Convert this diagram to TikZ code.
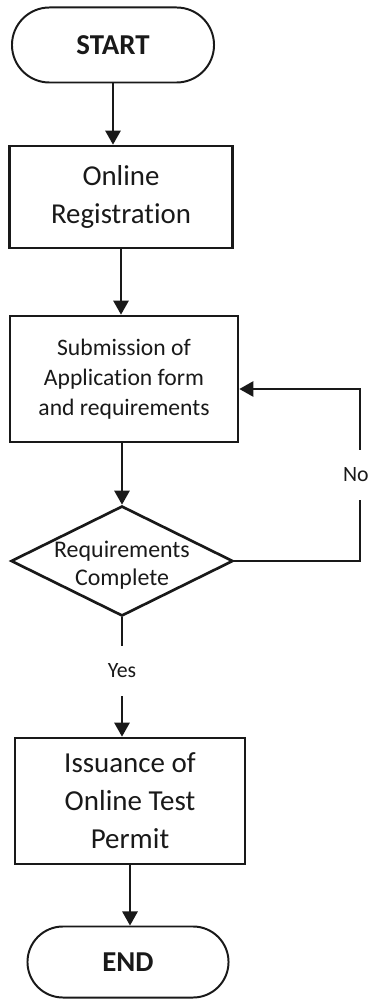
\documentclass[tikz,border=0pt]{standalone}
\usepackage{fontspec}
\setmainfont{Carlito}[Ligatures=NoCommon]
\usepackage{tikz}
\usetikzlibrary{shapes.geometric,shapes.misc}
\usetikzlibrary{arrows.meta}

\tikzset{
  terminal/.style={rounded rectangle, draw=black!90, line width=1.4pt, inner sep=0pt,
    text=black!90, font=\fontsize{20.5}{25}\selectfont\bfseries},
  process/.style={rectangle, draw=black!90, line width=1.9pt, inner sep=0pt,
    align=center, text=black!90},
  decision/.style={diamond, draw=black!90, line width=1.9pt, inner sep=0pt},
  flow/.style={line width=1pt, draw=black!90, -{Triangle[width=11pt,length=10pt]}},
  answer/.style={fill=white, text=black!90, inner xsep=2pt, inner ysep=12.5pt,
    font=\fontsize{15.5}{18}\selectfont}
}

\begin{document}
\begin{tikzpicture}[x=0.025cm,y=-0.025cm]
\useasboundingbox (0,0) rectangle (370,1003);
%%%%%boxes of the flow
\node[terminal, minimum width=5.05cm, minimum height=1.875cm] (start) at (113,45) {START};
\node[process, minimum width=5.575cm, minimum height=2.55cm,
  font=\fontsize{20.5}{26.5}\selectfont] (reg) at (121,197) {Online\\Registration};
\node[process, minimum width=5.7cm, minimum height=3.15cm,
  font=\fontsize{16.8}{21.5}\selectfont] (sub) at (124,379) {Submission of\\Application form\\and requirements};
\node[decision, minimum width=5.55cm, minimum height=2.75cm,
  label={[align=center, text=black!90, font=\fontsize{17}{20}\selectfont, yshift=-0.1cm]center:Requirements\\Complete}] (check) at (122,561) {};
\node[process, minimum width=5.75cm, minimum height=3.15cm,
  font=\fontsize{20.6}{27}\selectfont] (permit) at (130,801) {Issuance of\\Online Test\\Permit};
\node[terminal, minimum width=5.025cm, minimum height=1.775cm] (end) at (128,962) {END};
\coordinate (loop) at (360,389);
%%%%%arrows
\draw[flow] (start.south) -- (start.south |- reg.north);
\draw[flow] (reg.south) -- (reg.south |- sub.north);
\draw[flow] (sub.south -| check.north) -- (check.north);
\draw[flow] (check.south) -- node[answer, pos=0.45]{Yes} (check.south |- permit.north);
\draw[flow] (permit.south) -- (permit.south |- end.north);
%%%%%back to submission
\draw[flow] (check.east) -- (check.east -| loop) -- node[answer, xshift=-3pt]{No} (loop) -- (sub.east |- loop);
\end{tikzpicture}
\end{document}
